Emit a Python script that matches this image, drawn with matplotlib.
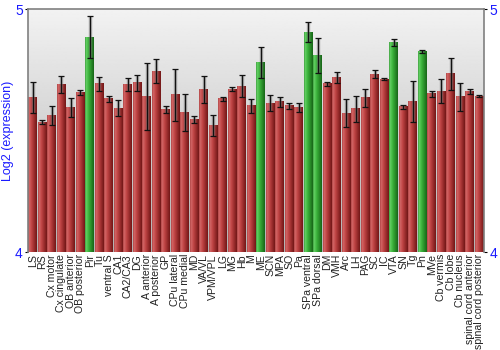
"""
Regional expression bar chart (log2 scale) with error bars.
"""

import numpy as np
import matplotlib
matplotlib.use("Agg")
import matplotlib.pyplot as plt
from matplotlib.colors import LinearSegmentedColormap

regions = [
    "LS", "RS", "Cx motor", "Cx cingulate", "OB anterior", "OB posterior", "Pir",
    "Tu", "ventral S", "CA1", "CA2/CA3", "DG", "A anterior", "A posterior", "GP",
    "CPu lateral", "CPu medial", "MD", "VA/VL", "VPM/VPL", "LG", "MG", "Hb", "M",
    "ME", "SCN", "MPA", "SO", "Pa", "SPa ventral", "SPa dorsal", "DM", "VMH", "Arc",
    "LH", "PAG", "SC", "IC", "VTA", "SN", "Tg", "Pn", "MVe", "Cb vermis", "Cb lobe",
    "Cb nucleus", "spinal cord anterior", "spinal cord posterior",
]

log2_expr = [
    4.636, 4.535, 4.562, 4.691, 4.595, 4.659, 4.885,
    4.693, 4.631, 4.593, 4.691, 4.697, 4.642, 4.746, 4.586,
    4.649, 4.576, 4.547, 4.671, 4.522, 4.632, 4.671, 4.683, 4.602,
    4.782, 4.614, 4.620, 4.602, 4.595, 4.906, 4.811, 4.693, 4.719, 4.572,
    4.590, 4.635, 4.733, 4.713, 4.865, 4.599, 4.621, 4.825, 4.652, 4.663, 4.734,
    4.640, 4.661, 4.642,
]

sem = [
    0.064, 0.008, 0.040, 0.034, 0.038, 0.010, 0.086,
    0.030, 0.014, 0.033, 0.027, 0.033, 0.137, 0.050, 0.014,
    0.107, 0.077, 0.014, 0.056, 0.044, 0.008, 0.008, 0.045, 0.027,
    0.065, 0.034, 0.021, 0.012, 0.019, 0.041, 0.073, 0.009, 0.023, 0.058,
    0.054, 0.036, 0.016, 0.004, 0.014, 0.009, 0.084, 0.006, 0.011, 0.050, 0.066,
    0.057, 0.009, 0.004,
]

# regions flagged as enriched
enriched = ["Pir", "ME", "SPa ventral", "SPa dorsal", "VTA", "Pn"]

y_min, y_max = 4, 5

red_cmap = LinearSegmentedColormap.from_list(
    "red_bar", [(0, "#a83e3e"), (0.12, "#d46868"), (0.4, "#c04444"), (1, "#721616")])
green_cmap = LinearSegmentedColormap.from_list(
    "green_bar", [(0, "#3a963a"), (0.12, "#66d266"), (0.4, "#3cb43c"), (1, "#176617")])

fig = plt.figure(figsize=(5, 3.5), dpi=100)
ax = fig.add_axes([0.056, 0.28, 0.912, 0.693])

x = np.arange(len(regions))
ax.set_xlim(-0.5, len(regions) - 0.5)
ax.set_ylim(y_min, y_max)

# background: light gray at top fading darker toward the baseline
bg = np.linspace(0.95, 0.70, 256).reshape(-1, 1)
ax.imshow(bg, cmap="gray", vmin=0, vmax=1, aspect="auto", zorder=0, origin="upper",
          extent=[-0.5, len(regions) - 0.5, y_min, y_max], interpolation="bilinear")

grad = np.linspace(0, 1, 64).reshape(1, -1)
width = 0.9
bars = ax.bar(x, np.array(log2_expr) - y_min, bottom=y_min, width=width,
              color="none", edgecolor="none", zorder=2)
for bar, name in zip(bars, regions):
    x0 = bar.get_x()
    top = bar.get_y() + bar.get_height()
    cmap = green_cmap if name in enriched else red_cmap
    ax.imshow(grad, cmap=cmap, aspect="auto", zorder=2, interpolation="bilinear",
              extent=[x0, x0 + width, y_min, top])

# error bars: soft gray halo under a thin dark line
ax.errorbar(x, log2_expr, yerr=sem, fmt="none", ecolor="#777777", elinewidth=2.5,
            alpha=0.5, capsize=0, zorder=3)
ax.errorbar(x, log2_expr, yerr=sem, fmt="none", ecolor="#111111", elinewidth=0.9,
            capsize=2.5, capthick=0.9, zorder=4)

ax.set_xticks(x)
ax.set_xticklabels(regions, rotation=90, fontsize=7.6, color="#222222",
                   family="Liberation Sans")
ax.tick_params(axis="x", length=0, pad=1.5)

ax.set_yticks([y_min, y_max])
ax.set_yticklabels(["4", "5"], family="Liberation Sans")
ax.tick_params(axis="y", which="both", labelsize=10, labelcolor="#1a1aff",
               length=2.5, width=0.8, pad=1.2, right=True, labelright=True)
ax.set_ylabel("Log2 (expression)", color="#1a1aff", fontsize=9, labelpad=1,
              family="Liberation Sans")

for side in ["left", "top", "right"]:
    ax.spines[side].set_color("#808080")
    ax.spines[side].set_linewidth(1.2)
ax.spines["bottom"].set_visible(False)

fig.savefig("out.png", dpi=100)
